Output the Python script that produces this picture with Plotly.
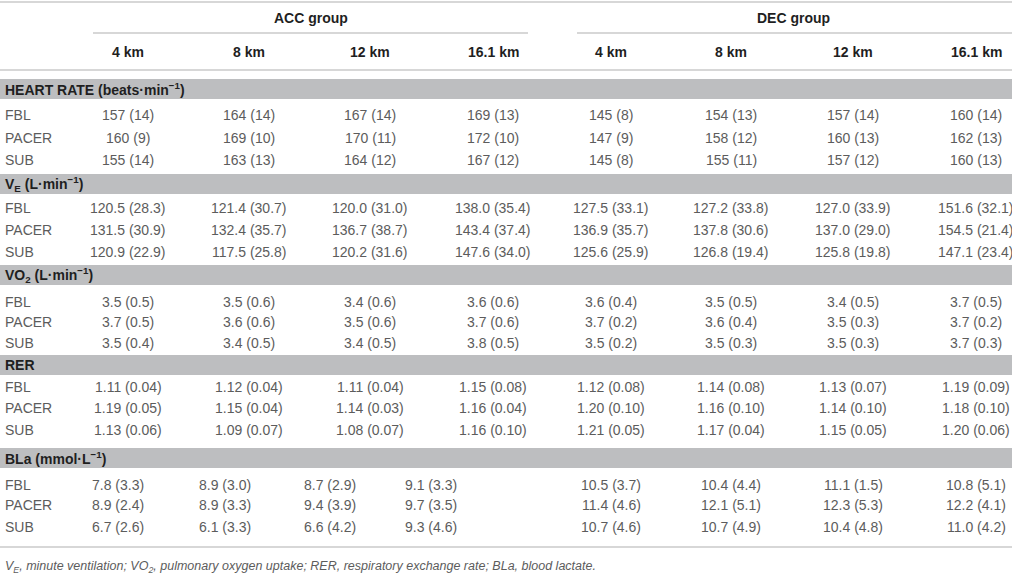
import plotly.graph_objects as go

groups = ["ACC group", "DEC group"]
distances = ["4 km", "8 km", "12 km", "16.1 km"]
conditions = ["FBL", "PACER", "SUB"]
sections = [
    "HEART RATE (beats·min<sup>−1</sup>)",
    "V<sub>E</sub> (L·min<sup>−1</sup>)",
    "VO<sub>2</sub> (L·min<sup>−1</sup>)",
    "RER",
    "BLa (mmol·L<sup>−1</sup>)",
]
decimals = [0, 1, 1, 2, 1]

# mean / sd per condition (rows) and distance (cols)
hr_acc_mean = [[157, 164, 167, 169], [160, 169, 170, 172], [155, 163, 164, 167]]
hr_acc_sd = [[14, 14, 14, 13], [9, 10, 11, 10], [14, 13, 12, 12]]
hr_dec_mean = [[145, 154, 157, 160], [147, 158, 160, 162], [145, 155, 157, 160]]
hr_dec_sd = [[8, 13, 14, 14], [9, 12, 13, 13], [8, 11, 12, 13]]

ve_acc_mean = [[120.5, 121.4, 120.0, 138.0], [131.5, 132.4, 136.7, 143.4], [120.9, 117.5, 120.2, 147.6]]
ve_acc_sd = [[28.3, 30.7, 31.0, 35.4], [30.9, 35.7, 38.7, 37.4], [22.9, 25.8, 31.6, 34.0]]
ve_dec_mean = [[127.5, 127.2, 127.0, 151.6], [136.9, 137.8, 137.0, 154.5], [125.6, 126.8, 125.8, 147.1]]
ve_dec_sd = [[33.1, 33.8, 33.9, 32.1], [35.7, 30.6, 29.0, 21.4], [25.9, 19.4, 19.8, 23.4]]

vo2_acc_mean = [[3.5, 3.5, 3.4, 3.6], [3.7, 3.6, 3.5, 3.7], [3.5, 3.4, 3.4, 3.8]]
vo2_acc_sd = [[0.5, 0.6, 0.6, 0.6], [0.5, 0.6, 0.6, 0.6], [0.4, 0.5, 0.5, 0.5]]
vo2_dec_mean = [[3.6, 3.5, 3.4, 3.7], [3.7, 3.6, 3.5, 3.7], [3.5, 3.5, 3.5, 3.7]]
vo2_dec_sd = [[0.4, 0.5, 0.5, 0.5], [0.2, 0.4, 0.3, 0.2], [0.2, 0.3, 0.3, 0.3]]

rer_acc_mean = [[1.11, 1.12, 1.11, 1.15], [1.19, 1.15, 1.14, 1.16], [1.13, 1.09, 1.08, 1.16]]
rer_acc_sd = [[0.04, 0.04, 0.04, 0.08], [0.05, 0.04, 0.03, 0.04], [0.06, 0.07, 0.07, 0.10]]
rer_dec_mean = [[1.12, 1.14, 1.13, 1.19], [1.20, 1.16, 1.14, 1.18], [1.21, 1.17, 1.15, 1.20]]
rer_dec_sd = [[0.08, 0.08, 0.07, 0.09], [0.10, 0.10, 0.10, 0.10], [0.05, 0.04, 0.05, 0.06]]

bla_acc_mean = [[7.8, 8.9, 8.7, 9.1], [8.9, 8.9, 9.4, 9.7], [6.7, 6.1, 6.6, 9.3]]
bla_acc_sd = [[3.3, 3.0, 2.9, 3.3], [2.4, 3.3, 3.9, 3.5], [2.6, 3.3, 4.2, 4.6]]
bla_dec_mean = [[10.5, 10.4, 11.1, 10.8], [11.4, 12.1, 12.3, 12.2], [10.7, 10.7, 10.4, 11.0]]
bla_dec_sd = [[3.7, 4.4, 1.5, 5.1], [4.6, 5.1, 5.3, 4.1], [4.6, 4.9, 4.8, 4.2]]

footnote = ("<i>V<sub>E</sub>, minute ventilation; VO<sub>2</sub>, pulmonary oxygen uptake; "
            "RER, respiratory exchange rate; BLa, blood lactate.</i>")

table = [
    (hr_acc_mean, hr_acc_sd, hr_dec_mean, hr_dec_sd),
    (ve_acc_mean, ve_acc_sd, ve_dec_mean, ve_dec_sd),
    (vo2_acc_mean, vo2_acc_sd, vo2_dec_mean, vo2_dec_sd),
    (rer_acc_mean, rer_acc_sd, rer_dec_mean, rer_dec_sd),
    (bla_acc_mean, bla_acc_sd, bla_dec_mean, bla_dec_sd),
]

# layout (pixels)
W, H = 1012, 577
col_x = [[128, 249, 370, 493], [611, 731, 853, 976]]
bla_acc_left = [90, 197, 302, 403]  # the ACC lactate row sits left-aligned in the source
group_rule = [(93, 528), (577, 1012)]
band_tops = [79, 174, 265, 355, 448]
row_y = [[115, 138, 160], [208, 230, 252], [302, 322, 343], [387, 408, 430], [485, 505, 527]]
band_h = 20

RULE = "#cacaca"
BAND = "#bdbec0"
DARK = "#1f1f1f"
LIGHT = "#5c5c5c"
FONT = "Liberation Sans"


def cell(mean, sd, nd):
    if nd == 0:
        return f"{mean} ({sd})"
    return f"{mean:.{nd}f} ({sd:.{nd}f})"


shapes = []
annotations = []


def hline(y, x0=0, x1=W, width=1.5):
    shapes.append(dict(type="line", xref="x", yref="y", x0=x0, x1=x1, y0=y, y1=y,
                       line=dict(color=RULE, width=width)))


def text(x, y, s, bold=False, size=14, color=LIGHT, anchor="center"):
    if bold:
        s = f"<b>{s}</b>"
        color = DARK
    annotations.append(dict(x=x, y=y, xref="x", yref="y", text=s, showarrow=False,
                            xanchor=anchor, yanchor="middle",
                            font=dict(family=FONT, size=size, color=color)))


# header
hline(2)
for g, name in enumerate(groups):
    text((col_x[g][0] + col_x[g][-1]) / 2, 18, name, bold=True)
    hline(33, *group_rule[g])
    for c, d in enumerate(distances):
        text(col_x[g][c], 52, d, bold=True)
hline(70)

# body
for s, name in enumerate(sections):
    top = band_tops[s]
    shapes.append(dict(type="rect", xref="x", yref="y", x0=0, x1=W, y0=top, y1=top + band_h,
                       fillcolor=BAND, line=dict(width=0), layer="below"))
    text(3, top + band_h / 2, name, bold=True, anchor="left")
    acc_m, acc_s, dec_m, dec_s = table[s]
    for r, cond in enumerate(conditions):
        y = row_y[s][r]
        text(3, y, cond, anchor="left")
        for c in range(len(distances)):
            if s == 4:
                text(bla_acc_left[c], y, cell(acc_m[r][c], acc_s[r][c], decimals[s]), anchor="left")
            else:
                text(col_x[0][c], y, cell(acc_m[r][c], acc_s[r][c], decimals[s]))
            text(col_x[1][c], y, cell(dec_m[r][c], dec_s[r][c], decimals[s]))

hline(547)
text(3, 567, footnote, size=12.5, anchor="left")

fig = go.Figure()
fig.add_trace(go.Scatter(x=[0, W], y=[0, H], mode="markers", marker=dict(opacity=0),
                         hoverinfo="skip", showlegend=False))
fig.update_layout(
    width=W, height=H,
    margin=dict(l=0, r=0, t=0, b=0),
    paper_bgcolor="white", plot_bgcolor="white",
    xaxis=dict(range=[0, W], visible=False, fixedrange=True),
    yaxis=dict(range=[H, 0], visible=False, fixedrange=True),
    shapes=shapes,
    annotations=annotations,
    showlegend=False,
)

fig.write_html("out.html", config={"displayModeBar": False},
               post_script="document.body.style.margin='0';")
